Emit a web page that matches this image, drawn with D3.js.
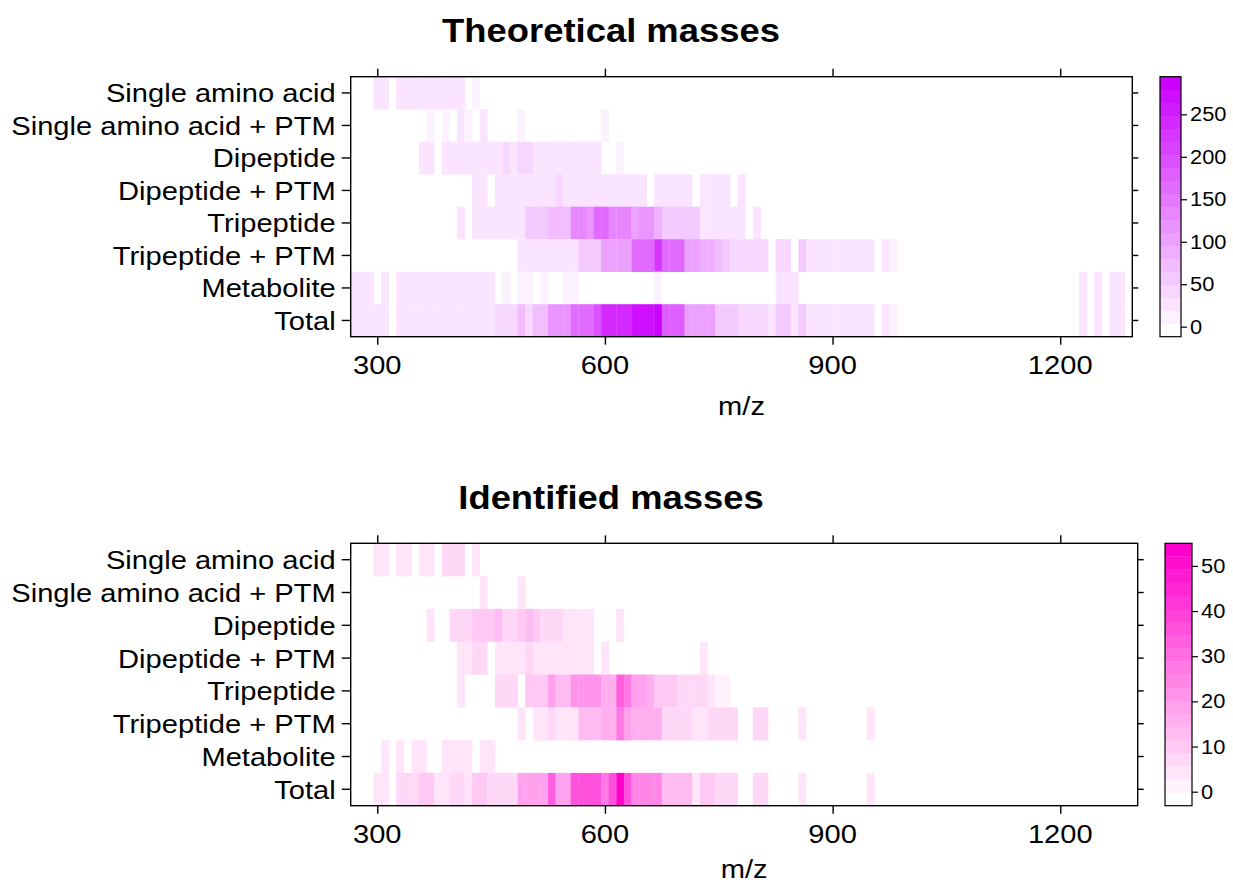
<!DOCTYPE html>
<html>
<head>
<meta charset="utf-8">
<script src="https://cdn.jsdelivr.net/npm/d3@7"></script>
<style>
  body { margin: 0; background: #fff; }
  text { font-family: "Liberation Sans", Arial, sans-serif; fill: #000; }
</style>
</head>
<body>
<div id="chart"></div>
<script>
// Row categories (top to bottom) and m/z bin centres (10 units wide)
const categories = ["Single amino acid", "Single amino acid + PTM", "Dipeptide", "Dipeptide + PTM",
  "Tripeptide", "Tripeptide + PTM", "Metabolite", "Total"];
const mzBins = d3.range(270, 1291, 10);
const xTicks = [300, 600, 900, 1200];

// Theoretical masses, counts per bin (index 0 = m/z 270)
const theoSAA = [0,0,0,22,22,0,24,24,24,24, 22,22,22,22,22,0,18,0,0,0, 0,0,0,0,0,0,0,0,0,0, 0,0,0,0,0,0,0,0,0,0,
  0,0,0,0,0,0,0,0,0,0, 0,0,0,0,0,0,0,0,0,0, 0,0,0,0,0,0,0,0,0,0, 0,0,0,0,0,0,0,0,0,0, 0,0,0,0,0,0,0,0,0,0,
  0,0,0,0,0,0,0,0,0,0, 0,0,0];
const theoSAAPTM = [0,0,0,0,0,0,0,0,0,0, 18,0,18,0,20,18,0,20,0,0, 0,0,18,0,0,0,0,0,0,0, 0,0,0,16,0,0,0,0,0,0,
  0,0,0,0,0,0,0,0,0,0, 0,0,0,0,0,0,0,0,0,0, 0,0,0,0,0,0,0,0,0,0, 0,0,0,0,0,0,0,0,0,0, 0,0,0,0,0,0,0,0,0,0,
  0,0,0,0,0,0,0,0,0,0, 0,0,0];
const theoDi = [0,0,0,0,0,0,0,0,0,20, 20,0,22,22,22,22,22,22,22,22, 38,24,40,40,24,24,24,24,24,24, 24,24,24,0,0,18,0,0,0,0,
  0,0,0,0,0,0,0,0,0,0, 0,0,0,0,0,0,0,0,0,0, 0,0,0,0,0,0,0,0,0,0, 0,0,0,0,0,0,0,0,0,0, 0,0,0,0,0,0,0,0,0,0,
  0,0,0,0,0,0,0,0,0,0, 0,0,0];
const theoDiPTM = [0,0,0,0,0,0,0,0,0,0, 0,0,0,0,0,0,20,20,0,24, 24,24,24,24,24,24,24,36,24,24, 24,24,24,24,24,24,24,24,24,0,
  30,30,30,30,30,0,22,22,22,22, 0,20,0,0,0,0,0,0,0,0, 0,0,0,0,0,0,0,0,0,0, 0,0,0,0,0,0,0,0,0,0, 0,0,0,0,0,0,0,0,0,0,
  0,0,0,0,0,0,0,0,0,0, 0,0,0];
const theoTri = [0,0,0,0,0,0,0,0,0,0, 0,0,0,0,20,0,24,24,24,24, 24,24,24,50,50,50,75,75,75,135, 135,115,165,165,135,135,135,110,120,120,
  90,62,62,52,52,52,24,24,24,24, 24,24,0,20,0,0,0,0,0,0, 0,0,0,0,0,0,0,0,0,0, 0,0,0,0,0,0,0,0,0,0, 0,0,0,0,0,0,0,0,0,0,
  0,0,0,0,0,0,0,0,0,0, 0,0,0];
const theoTriPTM = [0,0,0,0,0,0,0,0,0,0, 0,0,0,0,0,0,0,0,0,0, 0,0,24,24,24,24,24,24,24,24, 55,55,55,100,100,100,100,170,170,170,
  225,170,170,170,110,110,95,95,70,55, 36,36,36,36,36,0,45,45,0,55, 24,24,24,24,24,24,24,24,24,0, 22,14,0,0,0,0,0,0,0,0, 0,0,0,0,0,0,0,0,0,0,
  0,0,0,0,0,0,0,0,0,0, 0,0,0];
const theoMet = [22,22,22,0,22,0,22,22,22,22, 22,22,22,22,22,22,22,22,22,0, 18,0,16,16,0,16,0,0,16,16, 0,0,0,0,0,0,0,0,0,0,
  14,0,0,0,0,0,0,0,0,0, 0,0,0,0,0,0,20,20,20,0, 0,0,0,0,0,0,0,0,0,0, 0,0,0,0,0,0,0,0,0,0, 0,0,0,0,0,0,0,0,0,0,
  0,0,0,0,0,0,20,0,20,0, 20,20,0];
const theoTotal = [22,22,22,22,30,0,26,26,26,26, 26,26,26,26,26,26,26,26,26,45, 45,45,70,48,80,80,115,115,115,170, 170,170,200,245,245,245,245,265,265,265,
  285,185,185,185,100,100,100,100,62,62, 62,42,42,42,42,22,58,58,22,60, 24,24,24,24,24,24,24,24,24,0, 22,14,0,0,0,0,0,0,0,0, 0,0,0,0,0,0,0,0,0,0,
  0,0,0,0,0,0,20,0,20,0, 20,20,0];

// Identified masses, counts per bin
const identSAA = [0,0,0,4,4,0,4,4,0,4, 4,0,6,6,6,0,4,0,0,0, 0,0,0,0,0,0,0,0,0,0, 0,0,0,0,0,0,0,0,0,0,
  0,0,0,0,0,0,0,0,0,0, 0,0,0,0,0,0,0,0,0,0, 0,0,0,0,0,0,0,0,0,0, 0,0,0,0,0,0,0,0,0,0, 0,0,0,0,0,0,0,0,0,0,
  0,0,0,0,0,0,0,0,0,0, 0,0,0];
const identSAAPTM = [0,0,0,0,0,0,0,0,0,0, 0,0,0,0,0,0,0,4,0,0, 0,0,4,0,0,0,0,0,0,0, 0,0,0,0,0,0,0,0,0,0,
  0,0,0,0,0,0,0,0,0,0, 0,0,0,0,0,0,0,0,0,0, 0,0,0,0,0,0,0,0,0,0, 0,0,0,0,0,0,0,0,0,0, 0,0,0,0,0,0,0,0,0,0,
  0,0,0,0,0,0,0,0,0,0, 0,0,0];
const identDi = [0,0,0,0,0,0,0,0,0,0, 3,0,0,6,6,6,10,10,10,12, 6,6,11,14,10,7,7,7,3,3, 3,3,0,0,0,3,0,0,0,0,
  0,0,0,0,0,0,0,0,0,0, 0,0,0,0,0,0,0,0,0,0, 0,0,0,0,0,0,0,0,0,0, 0,0,0,0,0,0,0,0,0,0, 0,0,0,0,0,0,0,0,0,0,
  0,0,0,0,0,0,0,0,0,0, 0,0,0];
const identDiPTM = [0,0,0,0,0,0,0,0,0,0, 0,0,0,0,3,3,6,6,0,3, 3,3,3,6,5,3,3,3,3,3, 3,3,0,5,0,0,0,0,0,0,
  0,0,0,0,0,0,4,0,0,0, 0,0,0,0,0,0,0,0,0,0, 0,0,0,0,0,0,0,0,0,0, 0,0,0,0,0,0,0,0,0,0, 0,0,0,0,0,0,0,0,0,0,
  0,0,0,0,0,0,0,0,0,0, 0,0,0];
const identTri = [0,0,0,0,0,0,0,0,0,0, 0,0,0,0,3,0,0,0,0,6, 6,6,0,11,11,11,18,12,12,21, 21,21,21,15,15,32,26,20,20,15,
  10,10,10,7,7,6,6,3,2,2, 0,0,0,0,0,0,0,0,0,0, 0,0,0,0,0,0,0,0,0,0, 0,0,0,0,0,0,0,0,0,0, 0,0,0,0,0,0,0,0,0,0,
  0,0,0,0,0,0,0,0,0,0, 0,0,0];
const identTriPTM = [0,0,0,0,0,0,0,0,0,0, 0,0,0,0,0,0,0,0,0,0, 0,0,3,0,3,3,8,4,4,4, 12,12,12,15,15,27,18,16,16,16,
  16,7,7,7,7,4,4,7,7,7, 7,0,0,6,6,0,0,0,0,5, 0,0,0,0,0,0,0,0,3,0, 0,0,0,0,0,0,0,0,0,0, 0,0,0,0,0,0,0,0,0,0,
  0,0,0,0,0,0,0,0,0,0, 0,0,0];
const identMet = [0,0,0,0,3,0,3,0,3,3, 0,0,3,3,3,3,0,3,3,0, 0,0,0,0,0,0,0,0,0,0, 0,0,0,0,0,0,0,0,0,0,
  0,0,0,0,0,0,0,0,0,0, 0,0,0,0,0,0,0,0,0,0, 0,0,0,0,0,0,0,0,0,0, 0,0,0,0,0,0,0,0,0,0, 0,0,0,0,0,0,0,0,0,0,
  0,0,0,0,0,0,0,0,0,0, 0,0,0];
const identTotal = [0,0,0,4,4,0,6,6,6,9, 9,4,4,7,7,5,10,10,7,8, 8,8,18,18,18,18,32,20,20,36, 36,36,36,28,36,53,36,24,24,24,
  24,12,12,12,12,4,9,9,7,7, 7,0,0,6,6,0,0,0,0,5, 0,0,0,0,0,0,0,0,3,0, 0,0,0,0,0,0,0,0,0,0, 0,0,0,0,0,0,0,0,0,0,
  0,0,0,0,0,0,0,0,0,0, 0,0,0];

const theoKeyTicks = [0, 50, 100, 150, 200, 250];
const identKeyTicks = [0, 10, 20, 30, 40, 50];

const W = 1233, H = 883;
const svg = d3.select("#chart").append("svg")
  .attr("width", W).attr("height", H);

// Horizontal stretch of the original text rendering
const SX = 1.12;

function label(g, x, y, str, size, anchor, weight) {
  g.append("text")
    .attr("transform", `translate(${x},${y}) scale(${SX},1)`)
    .attr("text-anchor", anchor)
    .attr("font-size", size + "px")
    .attr("font-weight", weight || "normal")
    .text(str);
}

function drawPanel(opt) {
  const g = svg.append("g");
  const x = d3.scaleLinear().domain(opt.xDomain).range([opt.left, opt.right]);
  const y = d3.scaleBand().domain(categories).range([opt.top, opt.bottom]);
  const z = d3.scaleLinear().domain(opt.zDomain).range([opt.keyBottom, opt.keyTop]);

  // colour bands like lattice levelplot (20 regions)
  const nBands = 20;
  const at = d3.range(nBands + 1).map(i => opt.zDomain[0] + (opt.zDomain[1] - opt.zDomain[0]) * i / nBands);
  const ramp = d3.interpolateRgb("#ffffff", opt.color);
  const bandColor = i => ramp(i / (nBands - 1));
  const colorOf = v => {
    let i = Math.floor((v - at[0]) / (at[1] - at[0]));
    return bandColor(Math.max(0, Math.min(nBands - 1, i)));
  };

  // cells
  const cells = [];
  opt.series.forEach((vals, r) => {
    vals.forEach((v, i) => {
      if (v > 0) cells.push({ cat: categories[r], mz: mzBins[i], v: v });
    });
  });
  g.selectAll("rect.cell")
    .data(cells)
    .join("rect")
    .attr("class", "cell")
    .attr("x", d => x(d.mz - 5))
    .attr("width", d => x(d.mz + 5) - x(d.mz - 5) + 0.3)
    .attr("y", d => y(d.cat))
    .attr("height", y.bandwidth() + 0.3)
    .attr("fill", d => colorOf(d.v));

  // frame
  g.append("rect")
    .attr("x", opt.left).attr("y", opt.top)
    .attr("width", opt.right - opt.left).attr("height", opt.bottom - opt.top)
    .attr("fill", "none").attr("stroke", "#000").attr("stroke-width", 1.4);

  // x axis bottom + top ticks
  const xb = g.append("g").attr("transform", `translate(0,${opt.bottom})`)
    .call(d3.axisBottom(x).tickValues(xTicks).tickSize(8).tickFormat(""));
  const xt = g.append("g").attr("transform", `translate(0,${opt.top})`)
    .call(d3.axisTop(x).tickValues(xTicks).tickSize(8).tickFormat(""));
  const yl = g.append("g").attr("transform", `translate(${opt.left},0)`)
    .call(d3.axisLeft(y).tickSize(9).tickFormat(""));
  const yr = g.append("g").attr("transform", `translate(${opt.right},0)`)
    .call(d3.axisRight(y).tickSize(6).tickFormat(""));
  [xb, xt, yl, yr].forEach(a => {
    a.select(".domain").remove();
    a.selectAll("line").attr("stroke", "#000").attr("stroke-width", 1.4);
  });

  xTicks.forEach(t => label(g, x(t), opt.bottom + 37, t, 26, "middle"));
  categories.forEach(c => label(g, opt.left - 15, y(c) + y.bandwidth() / 2 + 9.5, c, 26, "end"));
  label(g, (opt.left + opt.right) / 2, opt.bottom + opt.xlabOff, "m/z", 26, "middle");
  label(g, 611, opt.titleY, opt.title, 32.5, "middle", "bold");

  // colour key
  const kg = g.append("g");
  kg.selectAll("rect.band")
    .data(d3.range(nBands))
    .join("rect")
    .attr("class", "band")
    .attr("x", opt.keyLeft)
    .attr("width", opt.keyRight - opt.keyLeft)
    .attr("y", i => z(at[i + 1]))
    .attr("height", i => z(at[i]) - z(at[i + 1]) + 0.3)
    .attr("fill", i => bandColor(i));
  kg.append("rect")
    .attr("x", opt.keyLeft).attr("y", opt.keyTop)
    .attr("width", opt.keyRight - opt.keyLeft).attr("height", opt.keyBottom - opt.keyTop)
    .attr("fill", "none").attr("stroke", "#000").attr("stroke-width", 1.2);
  const ka = kg.append("g").attr("transform", `translate(${opt.keyRight},0)`)
    .call(d3.axisRight(z).tickValues(opt.keyTicks).tickSize(6).tickFormat(""));
  ka.select(".domain").remove();
  ka.selectAll("line").attr("stroke", "#000").attr("stroke-width", 1.2);
  opt.keyTicks.forEach(t => label(kg, opt.keyRight + 9, z(t) + 7, t, 19.5, "start"));
}

drawPanel({
  title: "Theoretical masses", titleY: 42,
  series: [theoSAA, theoSAAPTM, theoDi, theoDiPTM, theoTri, theoTriPTM, theoMet, theoTotal],
  xDomain: [265, 1295], left: 350.7, right: 1132.3, top: 76.7, bottom: 336.7, xlabOff: 78,
  zDomain: [-11.8, 294.3], color: "#cc00ff", keyTicks: theoKeyTicks,
  keyLeft: 1160, keyRight: 1181, keyTop: 76.7, keyBottom: 336.7
});

drawPanel({
  title: "Identified masses", titleY: 509,
  series: [identSAA, identSAAPTM, identDi, identDiPTM, identTri, identTriPTM, identMet, identTotal],
  xDomain: [265, 1302], left: 350.7, right: 1137.7, top: 543.3, bottom: 805.7, xlabOff: 72,
  zDomain: [-3.1, 55.0], color: "#ff00cc", keyTicks: identKeyTicks,
  keyLeft: 1165, keyRight: 1192, keyTop: 543.3, keyBottom: 805.7
});
</script>
</body>
</html>
